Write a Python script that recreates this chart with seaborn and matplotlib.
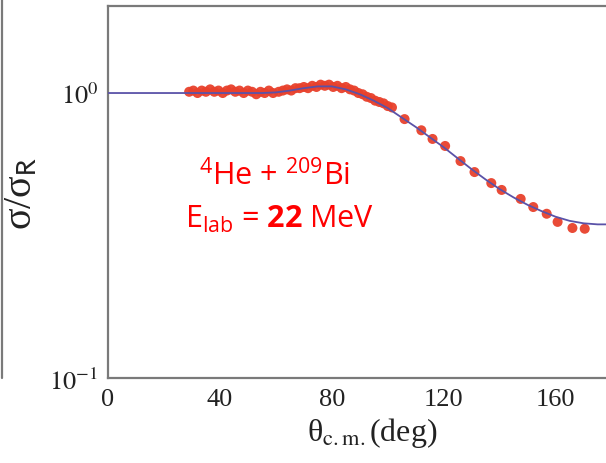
import numpy as np
import pandas as pd
import seaborn as sns
import matplotlib
matplotlib.use("Agg")
import matplotlib.pyplot as plt
from matplotlib.lines import Line2D
from matplotlib.ticker import FixedLocator, FixedFormatter, NullFormatter

# ---- data ----
exp_angle = [29, 30.5, 32, 33.5, 35, 36.5, 38, 39.5, 41, 42.5, 44, 45.5, 47, 48.5,
             50, 51.5, 53, 54.5, 56, 57.5, 59, 61, 62.5, 64, 65.5, 67, 68.5, 70,
             71.5, 73, 74.5, 76, 77.5, 79, 80.5, 82, 83.5, 85, 86.5, 88, 89.5, 91,
             92.5, 94, 95.5, 97, 98.5, 100, 101.5, 106, 112, 116, 120.5, 126, 131,
             137, 140.7, 147.5, 152, 156.8, 160.7, 166, 170.4]
exp_ratio = [1.01, 1.02, 1.00, 1.02, 1.01, 1.03, 1.01, 1.02, 1.00, 1.02, 1.03, 1.01,
             1.02, 1.00, 1.02, 1.01, 0.99, 1.01, 1.00, 1.02, 1.00, 1.01, 1.02, 1.03,
             1.02, 1.04, 1.04, 1.05, 1.04, 1.06, 1.05, 1.07, 1.06, 1.07, 1.05, 1.06,
             1.04, 1.05, 1.03, 1.02, 1.00, 0.99, 0.97, 0.96, 0.94, 0.93, 0.92, 0.90,
             0.89, 0.81, 0.74, 0.69, 0.652, 0.577, 0.528, 0.483, 0.457, 0.425, 0.398,
             0.377, 0.353, 0.336, 0.334]

calc_angle = [0, 10, 20, 30, 40, 50, 55, 60, 65, 70, 75, 80, 85, 90, 95, 100, 105,
              110, 115, 120, 125, 130, 135, 140, 145, 150, 155, 160, 165, 170, 175, 178]
calc_ratio = [1.0, 1.0, 1.0, 1.0, 1.0, 1.0, 1.0, 1.005, 1.02, 1.04, 1.055, 1.055,
              1.03, 0.99, 0.94, 0.885, 0.82, 0.76, 0.70, 0.645, 0.59, 0.54, 0.497,
              0.46, 0.43, 0.405, 0.385, 0.368, 0.356, 0.349, 0.346, 0.346]

x_ticks = [0, 40, 80, 120, 160]
x_tick_labels = ["0", "40", "80", "120", "160"]
y_ticks = [0.1, 1.0]
y_tick_labels = [r"$10^{-1}$", r"$10^{0}$"]

exp_df = pd.DataFrame({"angle": exp_angle, "ratio": exp_ratio})
calc_df = pd.DataFrame({"angle": calc_angle, "ratio": calc_ratio})

sns.set_style("white")
plt.rcParams["mathtext.fontset"] = "stix"
plt.rcParams["mathtext.rm"] = "Open Sans"
plt.rcParams["mathtext.it"] = "Open Sans:italic"
plt.rcParams["mathtext.bf"] = "Open Sans:bold"
plt.rcParams["font.family"] = ["Liberation Serif", "DejaVu Serif"]

fig = plt.figure(figsize=(6.06, 4.64), dpi=100)
ax = fig.add_axes([108 / 606, 1 - 379 / 464, 1 - 108 / 606, (379 - 7) / 464])

sns.lineplot(data=calc_df, x="angle", y="ratio", ax=ax, color="#5a52a8",
             linewidth=1.3, zorder=3)
sns.scatterplot(data=exp_df, x="angle", y="ratio", ax=ax, color="#e8412c",
                s=52, edgecolor="none", alpha=0.95, zorder=2)

ax.set_yscale("log")
ax.set_xlim(0, 178)
ax.set_ylim(0.1, 2.02)

grey = "#7a7a7a"
for side in ["left", "bottom", "top"]:
    ax.spines[side].set_color(grey)
    ax.spines[side].set_linewidth(1.6)
ax.spines["right"].set_visible(False)

ax.xaxis.set_major_locator(FixedLocator(x_ticks))
ax.xaxis.set_major_formatter(FixedFormatter(x_tick_labels))
ax.xaxis.set_minor_locator(FixedLocator([20, 60, 100, 140]))
ax.yaxis.set_major_locator(FixedLocator(y_ticks))
ax.yaxis.set_major_formatter(FixedFormatter(y_tick_labels))
ax.yaxis.set_minor_locator(FixedLocator([0.2, 0.3, 0.4, 0.5, 0.6, 0.7, 0.8, 0.9, 2.0]))
ax.yaxis.set_minor_formatter(NullFormatter())

ax.tick_params(axis="both", which="major", direction="in", length=7, width=1.2,
               color=grey, labelsize=19, pad=7, labelcolor="#222222")
ax.tick_params(axis="both", which="minor", direction="in", length=3.5, width=1.2,
               color=grey)
ax.tick_params(top=False, right=False, which="both")

ax.set_xlabel(r"θ$_{\rm c.m.}$(deg)", fontsize=23, color="#222222", labelpad=0,
              math_fontfamily="stix")
ax.xaxis.set_label_coords(0.53, -0.1)
ax.set_ylabel(r"σ/σ$_{\rm R}$", fontsize=29, color="#222222", labelpad=6,
              math_fontfamily="stixsans")
for lbl in ax.get_yticklabels() + ax.get_xticklabels():
    lbl.set_math_fontfamily("stix")

red = "#ff0000"
ax.text(0.335, 0.545, r"$^{4}$He + $^{209}$Bi", transform=ax.transAxes, ha="center",
        va="center", fontsize=22, color=red, family=["Open Sans", "DejaVu Sans"],
        math_fontfamily="custom")
ax.text(0.345, 0.43, r"E$_{\mathrm{lab}}$ = $\mathbf{22}$ MeV", transform=ax.transAxes,
        ha="center", va="center", fontsize=22, color=red,
        family=["Open Sans", "DejaVu Sans"], math_fontfamily="custom")

# edge of neighbouring panel on the left
fig.add_artist(Line2D([2.5 / 606, 2.5 / 606], [1.0, 1 - 379 / 464], color=grey,
                      linewidth=1.6, transform=fig.transFigure))

fig.savefig("out.png", dpi=100)
